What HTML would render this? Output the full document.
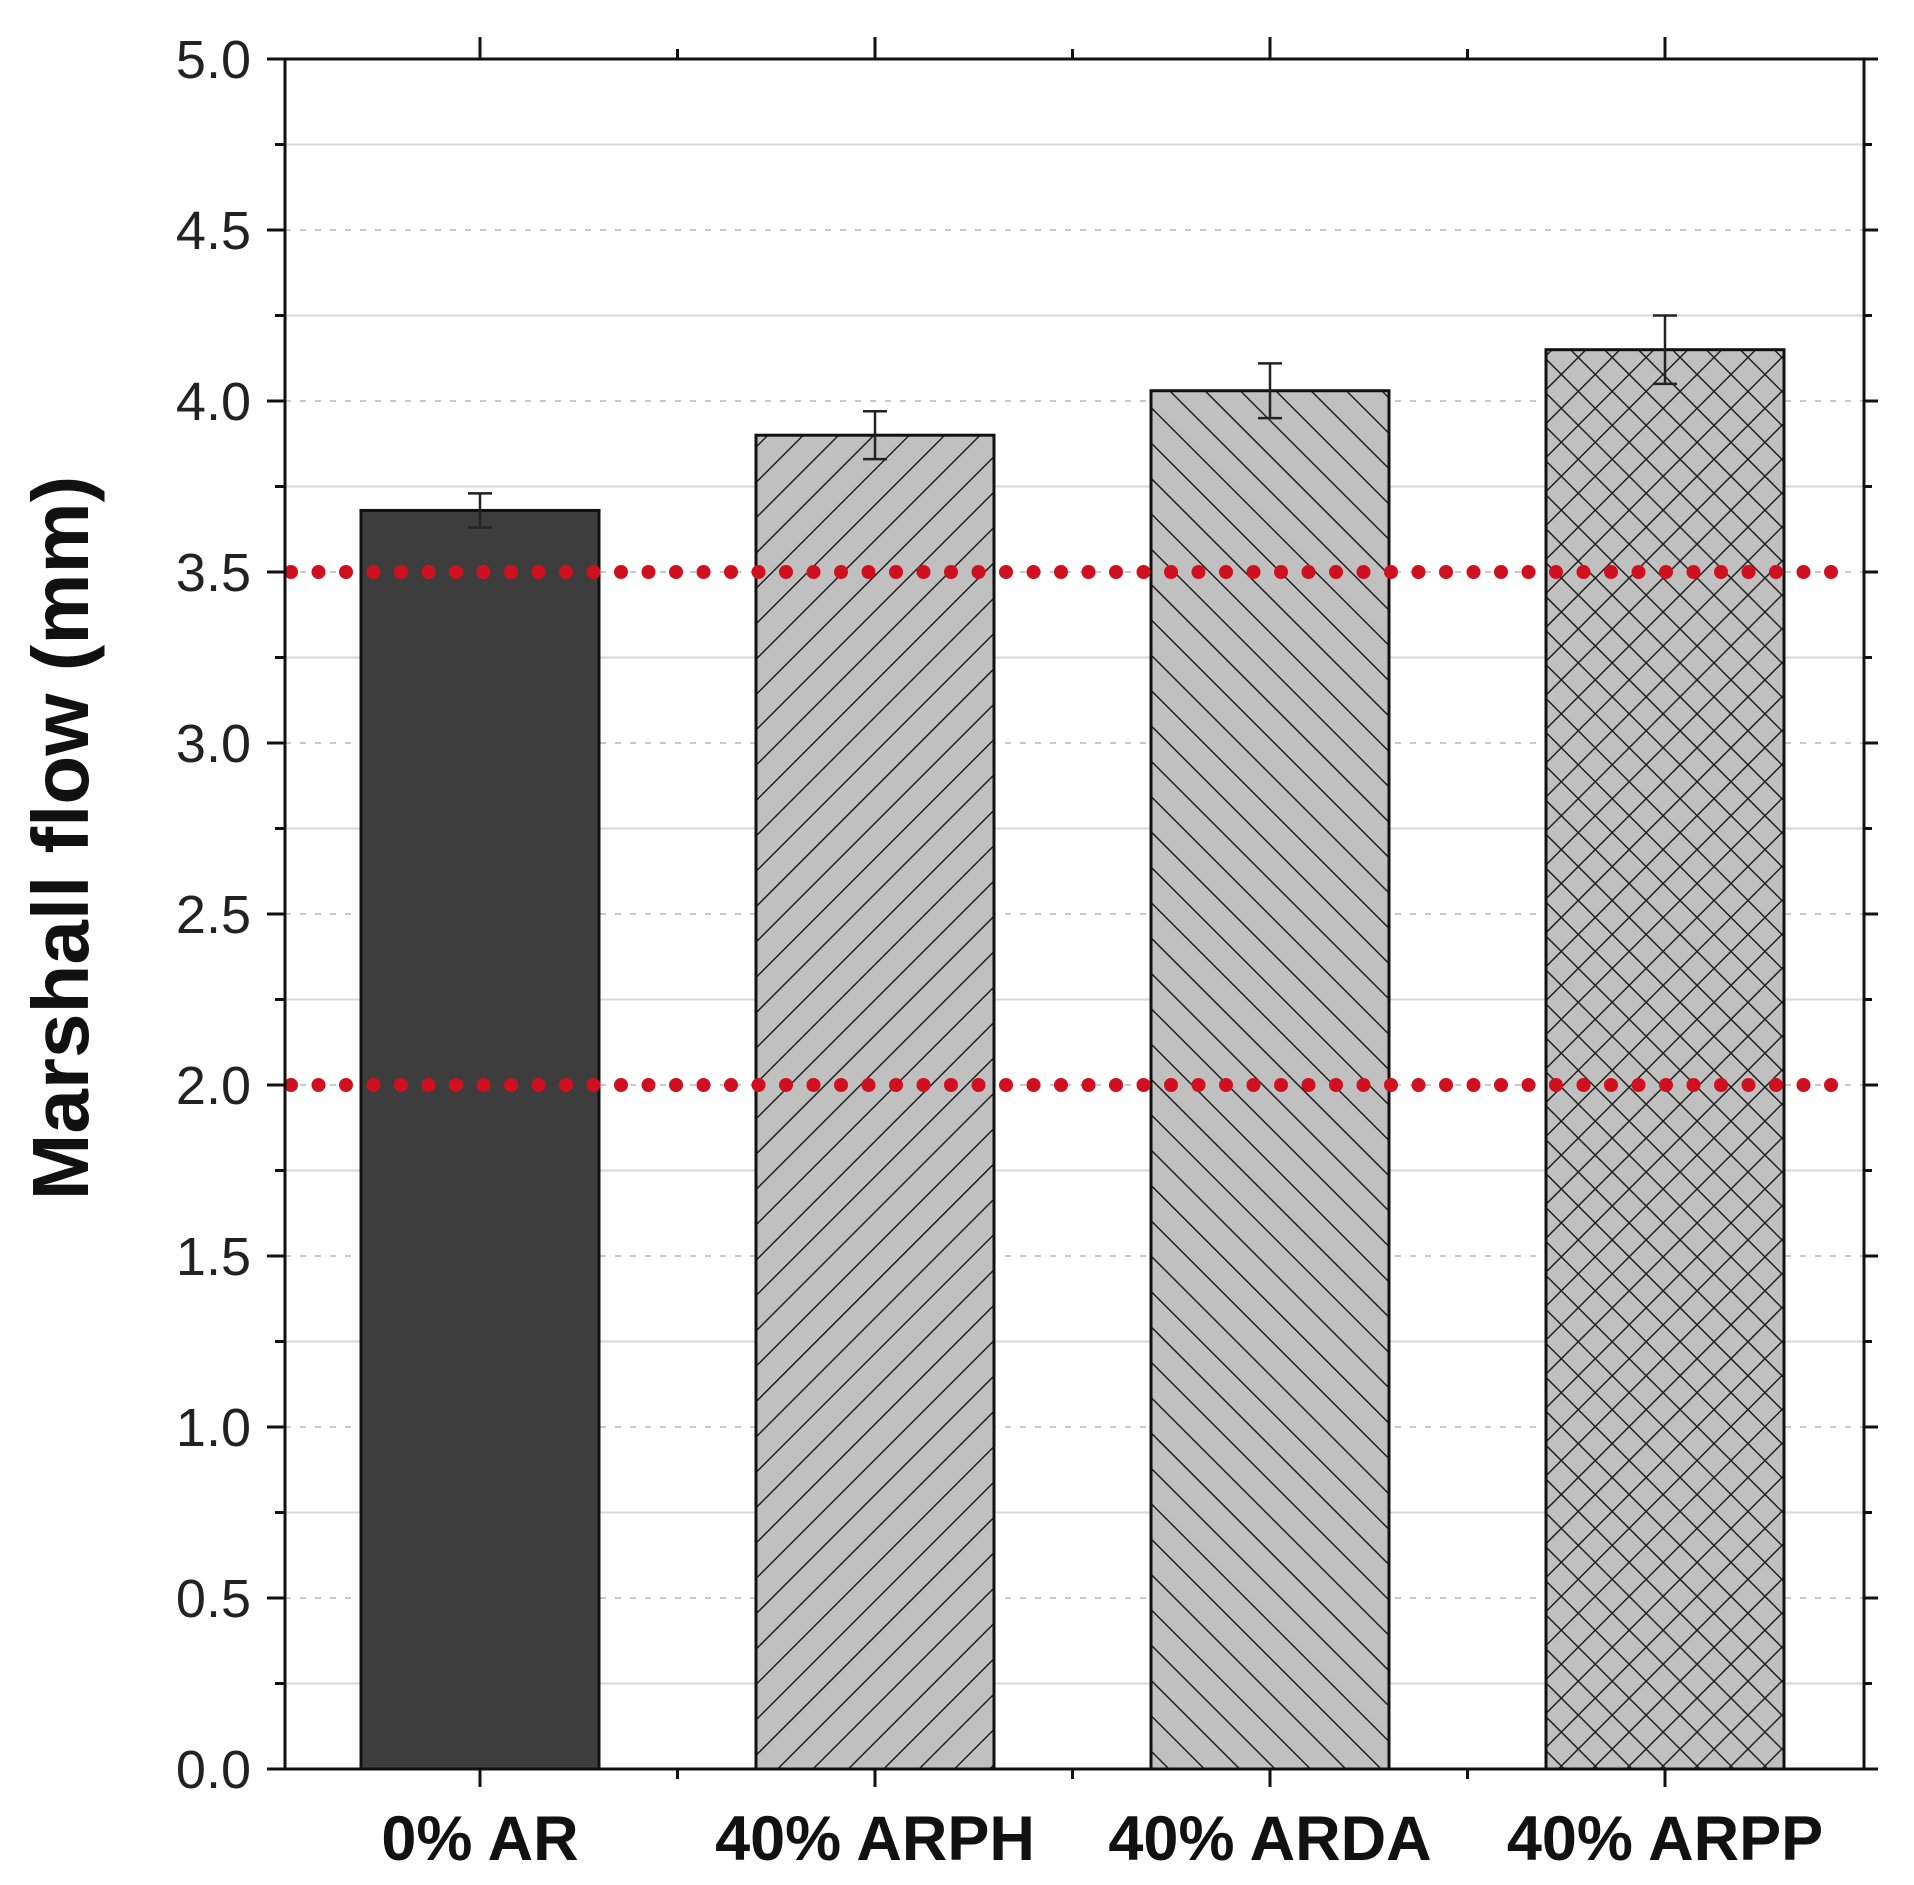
<!DOCTYPE html>
<html><head><meta charset="utf-8"><style>
html,body{margin:0;padding:0;background:#fff;}
svg{display:block;font-family:"Liberation Sans",Arial,sans-serif;}
</style></head>
<body>
<svg id="chart" width="1914" height="1885" viewBox="0 0 1914 1885" xmlns="http://www.w3.org/2000/svg">
<defs>
<pattern id="hatchR" patternUnits="userSpaceOnUse" width="25" height="25" patternTransform="rotate(45)">
<rect width="25" height="25" fill="#c0c0c0"/><line x1="0" y1="0" x2="0" y2="25" stroke="#222" stroke-width="3"/></pattern>
<pattern id="hatchL" patternUnits="userSpaceOnUse" width="25" height="25" patternTransform="rotate(-45)">
<rect width="25" height="25" fill="#c0c0c0"/><line x1="0" y1="0" x2="0" y2="25" stroke="#222" stroke-width="3"/></pattern>
<pattern id="hatchX" patternUnits="userSpaceOnUse" width="24" height="24" patternTransform="rotate(45)">
<rect width="24" height="24" fill="#c0c0c0"/><line x1="0" y1="0" x2="0" y2="24" stroke="#222" stroke-width="3"/><line x1="0" y1="0" x2="24" y2="0" stroke="#222" stroke-width="3"/></pattern>
</defs>
<g id="grid"></g>
<g id="bars"></g>
<g id="refs"></g>
<g id="axes"></g>
<text transform="translate(88,838) rotate(-90)" text-anchor="middle" font-size="80" font-weight="bold" fill="#111">Marshall flow (mm)</text>
</svg>
<script>
const categories = ["0% AR", "40% ARPH", "40% ARDA", "40% ARPP"];
const values = [3.68, 3.90, 4.03, 4.15];
const errors = [0.05, 0.07, 0.08, 0.10];
const fills = ["#3d3d3d", "url(#hatchR)", "url(#hatchL)", "url(#hatchX)"];
const yTicks = [0, 0.5, 1.0, 1.5, 2.0, 2.5, 3.0, 3.5, 4.0, 4.5, 5.0];
const refLines = [3.5, 2.0];

const NS = "http://www.w3.org/2000/svg";
const L = 285, R = 1864, T = 59, B = 1769;
const yMin = 0, yMax = 5;
const y = v => B - (v - yMin) / (yMax - yMin) * (B - T);
const step = 395, first = 480;
const x = i => first + i * step;
const barW = 238;

function mk(tag, attrs, parent) {
  const e = document.createElementNS(NS, tag);
  for (const k in attrs) e.setAttribute(k, attrs[k]);
  parent.appendChild(e);
  return e;
}
const grid = document.getElementById('grid');
const refs = document.getElementById('refs');
const bars = document.getElementById('bars');
const axes = document.getElementById('axes');

yTicks.forEach(v => {
  if (v > 0 && v < 5) {
    const g = mk('line', {x1: L, x2: R, y1: y(v), y2: y(v), stroke: '#c8c8c8', 'stroke-width': 2, 'stroke-dasharray': '6 9'}, grid);
    
    
  }
  if (v < 5) {
    const m = mk('line', {x1: L, x2: R, y1: y(v + 0.25), y2: y(v + 0.25), stroke: '#d6d6d6', 'stroke-width': 2}, grid);
    
    
  }
});

categories.forEach((c, i) => {
  const top = y(values[i]);
  const b = mk('rect', {x: x(i) - barW / 2, y: top, width: barW, height: B - top, fill: fills[i], stroke: '#111', 'stroke-width': 3}, bars);
  
  
  const e = mk('g', {stroke: '#222', 'stroke-width': 2.5}, bars);
  
  
  const y1 = y(values[i] + errors[i]), y2 = y(values[i] - errors[i]);
  mk('line', {x1: x(i), x2: x(i), y1: y1, y2: y2}, e);
  mk('line', {x1: x(i) - 12, x2: x(i) + 12, y1: y1, y2: y1}, e);
  mk('line', {x1: x(i) - 12, x2: x(i) + 12, y1: y2, y2: y2}, e);
  const t = mk('text', {x: x(i), y: 1860, 'text-anchor': 'middle', 'font-size': 63, 'font-weight': 'bold', fill: '#111'}, axes);
  t.textContent = c;
  
  
});

refLines.forEach(v => {
  const r = mk('line', {x1: L + 6, x2: 1852, y1: y(v), y2: y(v), stroke: '#d0101e', 'stroke-width': 14, 'stroke-linecap': 'round', 'stroke-dasharray': '0 27.5'}, refs);
  
  
});

const frame = mk('rect', {x: L, y: T, width: R - L, height: B - T, fill: 'none', stroke: '#111', 'stroke-width': 3}, axes);


yTicks.forEach(v => {
  mk('line', {x1: L - 18, x2: L, y1: y(v), y2: y(v), stroke: '#111', 'stroke-width': 3}, axes);
  mk('line', {x1: R, x2: R + 14, y1: y(v), y2: y(v), stroke: '#111', 'stroke-width': 3}, axes);
  if (v < 5) {
    mk('line', {x1: L - 10, x2: L, y1: y(v + 0.25), y2: y(v + 0.25), stroke: '#111', 'stroke-width': 3}, axes);
    mk('line', {x1: R, x2: R + 8, y1: y(v + 0.25), y2: y(v + 0.25), stroke: '#111', 'stroke-width': 3}, axes);
  }
  const t = mk('text', {x: L - 34, y: y(v) + 19, 'text-anchor': 'end', 'font-size': 54, fill: '#222'}, axes);
  t.textContent = v.toFixed(1);
  
  
});
categories.forEach((c, i) => {
  mk('line', {x1: x(i), x2: x(i), y1: B, y2: B + 18, stroke: '#111', 'stroke-width': 3}, axes);
  mk('line', {x1: x(i), x2: x(i), y1: T, y2: T - 22, stroke: '#111', 'stroke-width': 3}, axes);
  if (i < categories.length - 1) {
    const mx = x(i) + step / 2;
    mk('line', {x1: mx, x2: mx, y1: B, y2: B + 10, stroke: '#111', 'stroke-width': 3}, axes);
    mk('line', {x1: mx, x2: mx, y1: T, y2: T - 10, stroke: '#111', 'stroke-width': 3}, axes);
  }
});
</script>
</body></html>
